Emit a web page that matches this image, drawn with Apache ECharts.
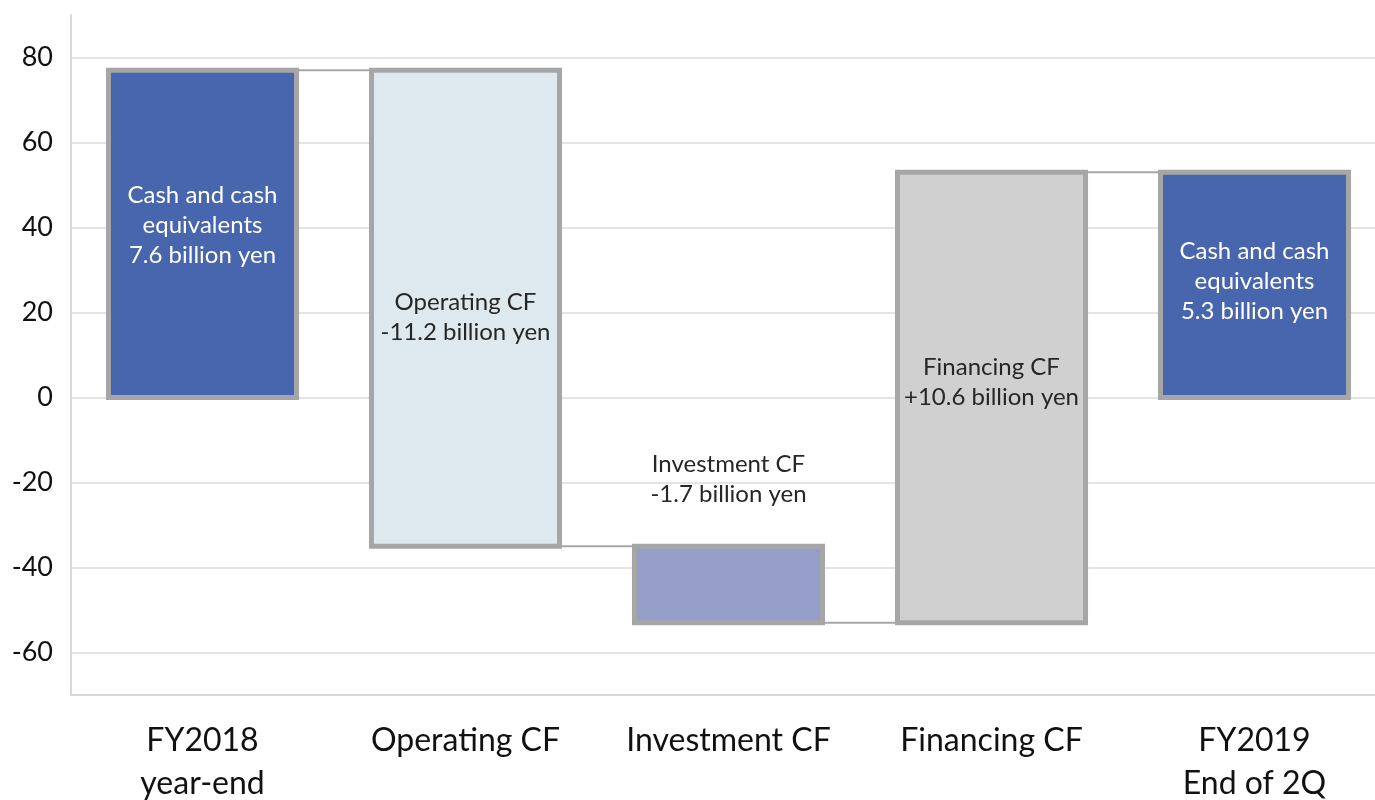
<!DOCTYPE html>
<html>
<head>
<meta charset="utf-8">
<script src="https://cdn.jsdelivr.net/npm/echarts@6/dist/echarts.min.js"></script>
<style>
  html, body { margin: 0; padding: 0; background: #fff; }
  #cf_chart { width: 1375px; height: 800px; }
</style>
</head>
<body>
<div id="cf_chart"></div>
<script>
// cash flow waterfall, units of 100 million yen
var categories = ['FY2018\nyear-end', 'Operating CF', 'Investment CF', 'Financing CF', 'FY2019\nEnd of 2Q'];
var startCash = 77;
var cfSteps = [-112, -18, 106];   // operating, investment, financing
var endCash = 53;
var barTexts = [
  'Cash and cash\nequivalents\n7.6 billion yen',
  'Operating CF\n-11.2 billion yen',
  'Investment CF\n-1.7 billion yen',
  'Financing CF\n+10.6 billion yen',
  'Cash and cash\nequivalents\n5.3 billion yen'
];
var yTicks = [-60, -40, -20, 0, 20, 40, 60, 80];

// build [index, low, high, connectorLevel] rows
var rows = [];
rows.push([0, 0, startCash, startCash]);
var run = startCash;
cfSteps.forEach(function (d, k) {
  var next = run + d;
  rows.push([k + 1, Math.min(run, next), Math.max(run, next), next]);
  run = next;
});
rows.push([4, 0, endCash, endCash]);

var fills = ['#4866ad', '#dde9ee', '#959ec8', '#d0d0d0', '#4866ad'];
var textColors = ['#ffffff', '#262626', '#262626', '#262626', '#ffffff'];
var textShift = [-9, 9, 0, -15, -4];   // px nudges for in-bar labels
var edge = '#a6a6a6';

var chart = echarts.init(document.getElementById('cf_chart'));
chart.setOption({
  animation: false,
  grid: { left: 71, right: -11, top: 15, bottom: 105, outerBoundsMode: 'none', containLabel: false },
  xAxis: {
    type: 'category',
    data: categories,
    axisLine: { show: true, onZero: false, lineStyle: { color: '#d9d9d9', width: 2 } },
    axisTick: { show: false },
    axisLabel: {
      color: '#111', fontFamily: 'Lato', fontSize: 32, lineHeight: 43, margin: 24, interval: 0
    }
  },
  yAxis: {
    type: 'value',
    min: -70, max: 90, interval: 10,
    axisLine: { show: true, lineStyle: { color: '#d9d9d9', width: 2 } },
    axisTick: { show: false },
    axisLabel: {
      color: '#111', fontFamily: 'Lato', fontSize: 27, margin: 18,
      formatter: function (v) { return yTicks.indexOf(v) >= 0 ? String(v) : ''; }
    },
    splitLine: {
      show: true, showMinLine: true, showMaxLine: true,
      lineStyle: { color: ['transparent', '#e4e4e4'], width: 2 }
    }
  },
  series: [{
    type: 'custom',
    data: rows,
    encode: { x: 0, y: [1, 2] },
    renderItem: function (params, api) {
      var i = api.value(0);
      var lo = api.coord([i, api.value(1)]);
      var hi = api.coord([i, api.value(2)]);
      var bw = api.size([1, 0])[0] * 0.715;
      var kids = [{
        type: 'rect',
        shape: { x: hi[0] - bw / 2, y: hi[1], width: bw, height: lo[1] - hi[1] },
        style: { fill: fills[i], stroke: edge, lineWidth: 5 }
      }];
      if (i < rows.length - 1) {
        var lvl = api.coord([i, api.value(3)]);
        var nx = api.coord([i + 1, api.value(3)]);
        kids.push({
          type: 'line',
          shape: { x1: hi[0] + bw / 2 + 2.5, y1: lvl[1], x2: nx[0] - bw / 2 - 2.5, y2: nx[1] },
          style: { stroke: edge, lineWidth: 2 }
        });
      }
      var ty = i === 2 ? hi[1] - 67 : (hi[1] + lo[1]) / 2 + textShift[i];
      kids.push({
        type: 'text',
        x: hi[0], y: ty,
        style: {
          text: barTexts[i], fill: textColors[i],
          fontFamily: 'Lato', fontSize: 24, lineHeight: 30,
          align: 'center', verticalAlign: 'middle'
        }
      });
      return { type: 'group', children: kids };
    }
  }]
});
</script>
</body>
</html>
